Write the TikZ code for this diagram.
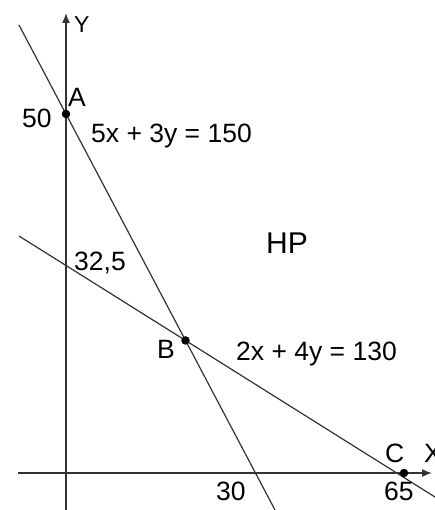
\documentclass[tikz,border=0pt]{standalone}
\usepackage{fontspec}
\setmainfont{Liberation Sans}
\usetikzlibrary{arrows.meta,calc}
\begin{document}
\begin{tikzpicture}[x=1pt,y=-1pt,
  axis/.style={draw=black!80,line width=1.5pt,-{Latex[length=10pt,width=8pt]}},
  gline/.style={draw=black!80,line width=1.2pt},
  pt/.style={circle,fill=black,inner sep=0pt,minimum size=8.5pt},
  lbl/.style={inner sep=0pt,anchor=base west,font=\fontsize{26.5}{26.5}\selectfont},
  biglbl/.style={inner sep=0pt,anchor=base west,font=\fontsize{30}{30}\selectfont}]
\clip (0,0) rectangle (435,510);
\fill[white] (0,0) rectangle (435,510);
% axes
\coordinate (O) at (66,473);
\coordinate (Ybot) at (66,510);
\coordinate (Ytop) at (66,13);
\coordinate (Xleft) at (18,473);
\coordinate (Xright) at (432,473);
\draw[axis] (Ybot) -- (Ytop);
\draw[axis] (Xleft) -- (Xright);
% constraint lines
\coordinate (L1a) at (19,25);
\coordinate (L1b) at (275,510);
\coordinate (L2a) at (19,236);
\coordinate (L2b) at (435,497);
\draw[gline] (L1a) -- (L1b);
\draw[gline] (L2a) -- (L2b);
% points
\node[pt] (A) at (66,114) {};
\node[pt] (B) at (intersection of L1a--L1b and L2a--L2b) {};
\node[pt] (C) at (404,473) {};
% labels
\node[lbl,font=\fontsize{23}{23}\selectfont] (ly) at (74,33) {Y};
\node[lbl] (lx) at (424,462) {X};
\node[lbl] (la) at (68,107) {A};
\node[lbl] (l50) at (22,128) {50};
\node[lbl] (eq1) at (91,143) {5x + 3y = 150};
\node[lbl] (l325) at (74,270) {32,5};
\node[lbl] (lb) at (157,358) {B};
\node[biglbl] (hp) at (266,253) {HP};
\node[lbl] (eq2) at (236,360) {2x + 4y = 130};
\node[lbl] (lc) at (385,462) {C};
\node[lbl] (l30) at (216,500) {30};
\node[lbl] (l65) at (384,500) {65};
\end{tikzpicture}
\end{document}
